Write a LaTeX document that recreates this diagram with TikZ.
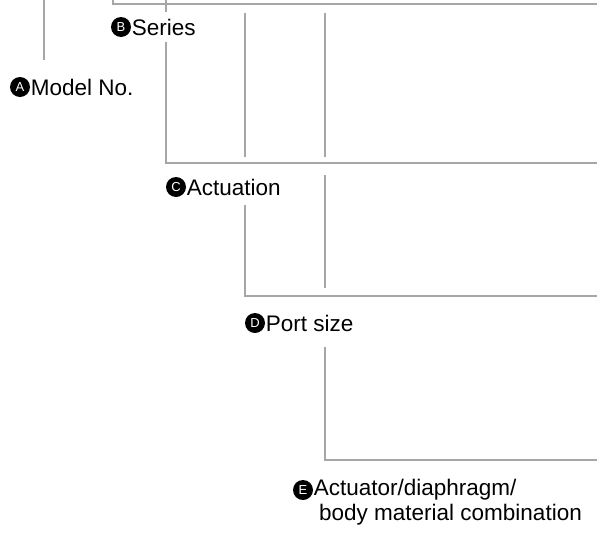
\documentclass[tikz,border=0pt]{standalone}
\usepackage{fontspec}
\setmainfont{Liberation Sans}
\definecolor{linegray}{HTML}{A6A6A6}
\begin{document}
\begin{tikzpicture}[x=1pt,y=-1pt,
  ln/.style={draw=linegray, line width=2pt},
  badge/.style={circle, fill=black, text=white, inner sep=0pt, minimum size=20pt, font=\fontsize{13}{13}\selectfont},
  lbl/.style={anchor=west, inner sep=0pt, font=\fontsize{22.5}{26}\selectfont}]
\useasboundingbox (0,0) rectangle (597,552);
% labels
\node[badge] (ba) at (20,87) {A};
\node[lbl] (ta) at ([xshift=0.5pt]ba.east) {Model No.};
\node[badge] (bb) at (121,27) {B};
\node[lbl] (tb) at ([xshift=0.5pt]bb.east) {Series};
\node[badge] (bc) at (176,187) {C};
\node[lbl] (tc) at ([xshift=0.5pt]bc.east) {Actuation};
\node[badge] (bd) at (255,323) {D};
\node[lbl] (td) at ([xshift=0.5pt]bd.east) {Port size};
\node[badge] (be) at (303,490) {E};
\node[lbl] (te) at ([xshift=0.5pt]be.east) {Actuator/diaphragm/};
\node[lbl] (te2) at (319,515) {body material combination};
% coordinates
\coordinate (a0) at (44,0);   \coordinate (a1) at (44,60);
\coordinate (m0) at (113,0);  \coordinate (m1) at (113,4);  \coordinate (m2) at (597,4);
\coordinate (b0) at (166,0);  \coordinate (b1) at (166,12);
\coordinate (b2) at (166,42); \coordinate (b3) at (166,163); \coordinate (b4) at (597,163);
\coordinate (c0) at (245,13); \coordinate (c1) at (245,157);
\coordinate (c2) at (245,205); \coordinate (c3) at (245,296); \coordinate (c4) at (597,296);
\coordinate (d0) at (325,13); \coordinate (d1) at (325,157);
\coordinate (d2) at (325,175); \coordinate (d3) at (325,288);
\coordinate (d4) at (325,347); \coordinate (d5) at (325,460); \coordinate (d6) at (597,460);
% lines
\draw[ln] (a0) -- (a1);
\draw[ln] (m0) -- (m1) -- (m2);
\draw[ln] (b0) -- (b1);
\draw[ln] (b2) -- (b3) -- (b4);
\draw[ln] (c0) -- (c1);
\draw[ln] (c2) -- (c3) -- (c4);
\draw[ln] (d0) -- (d1);
\draw[ln] (d2) -- (d3);
\draw[ln] (d4) -- (d5) -- (d6);
\end{tikzpicture}
\end{document}
